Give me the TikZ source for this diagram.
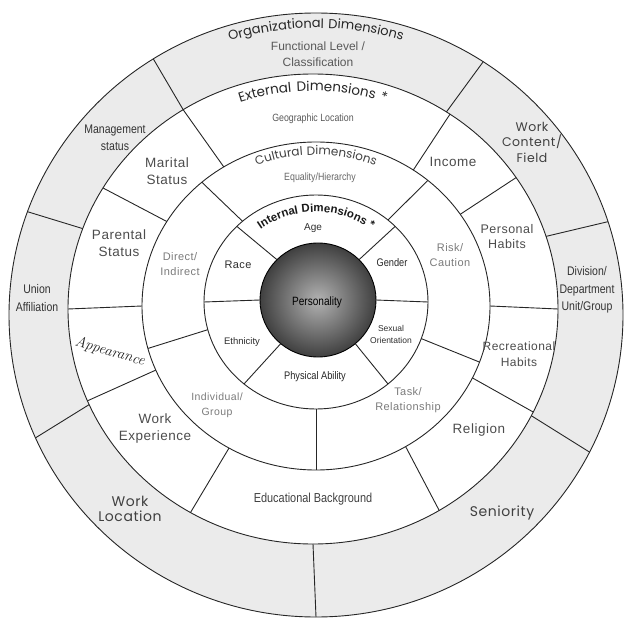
\documentclass[tikz,border=0pt]{standalone}
\usepackage{fontspec}
\setsansfont{Liberation Sans}
\newfontfamily\widesans[LetterSpace=4]{Liberation Sans}
\newfontfamily\narrowsans[FakeStretch=0.84]{Liberation Sans}
\newfontfamily\roundsans[LetterSpace=4]{Poppins}
\newfontfamily\titlesans[LetterSpace=6]{Poppins}
\newfontfamily\widetitlesans[LetterSpace=12]{Poppins}
\newfontfamily\innersans[LetterSpace=2]{Liberation Sans}
\newcommand\orgtitlefont{\titlesans\fontsize{13}{13}\selectfont}
\newcommand\exttitlefont{\widetitlesans\fontsize{13.5}{14}\selectfont}
\newcommand\culttitlefont{\titlesans\fontsize{12}{12}\selectfont}
\newcommand\inttitlefont{\innersans\bfseries\fontsize{11.5}{12}\selectfont}
\usepackage{tikz}
\usetikzlibrary{decorations.text}

\begin{document}
\begin{tikzpicture}[
  x=1pt,
  y=1pt,
  font=\sffamily,
  ring/.style={line width=0.9pt, draw=black!85},
  divider/.style={line width=0.9pt, draw=black!85},
  orgband/.style={fill=black!8},
  label/.style={align=center, inner sep=0pt},
  orgnarrow/.style={label, text=black!80, font=\narrowsans\fontsize{12.5}{17.5}\selectfont},
  orground/.style={label, text=black!75, font=\roundsans\fontsize{12.5}{15.5}\selectfont},
  orgplain/.style={label, text=black!65, font=\sffamily\fontsize{12}{16}\selectfont},
  extlabel/.style={label, text=black!70, font=\widesans\fontsize{13.5}{17}\selectfont},
  extnarrow/.style={label, text=black!75, font=\narrowsans\fontsize{13}{15}\selectfont},
  cultlabel/.style={label, text=black!52, font=\widesans\fontsize{11}{15}\selectfont},
  intlabel/.style={label, text=black!82, font=\sffamily\fontsize{10}{12}\selectfont},
  intnarrow/.style={label, text=black!85, font=\narrowsans\fontsize{11}{12}\selectfont}
]
\useasboundingbox (0,0) rectangle (640,633);

% Ring centres (the scan is slightly out of round).
\coordinate (cP) at (318,333);
\coordinate (cI) at (316,331);
\coordinate (cC) at (316,327);
\coordinate (cE) at (313,324);
\coordinate (cO) at (316,318);

% Shaded organizational band and the personality core.
\fill[orgband, even odd rule] (cO) ellipse [x radius=307, y radius=302]
  (cE) ellipse [x radius=245, y radius=235];
\shade[inner color=black!30, outer color=black!75] (cP) ellipse [x radius=58, y radius=57];

% Ring outlines.
\draw[ring] (cO) ellipse [x radius=307, y radius=302];
\draw[ring] (cE) ellipse [x radius=245, y radius=235];
\draw[ring] (cC) ellipse [x radius=174, y radius=164];
\draw[ring] (cI) ellipse [x radius=112, y radius=107];
\draw[ring, draw=black] (cP) ellipse [x radius=58, y radius=57];

% Internal ring dividers.
\draw[divider] ([shift={(0:58 and 57)}]cP) -- ([shift={(0:112 and 107)}]cI);
\draw[divider] ([shift={(45:58 and 57)}]cP) -- ([shift={(45:112 and 107)}]cI);
\draw[divider] ([shift={(135:58 and 57)}]cP) -- ([shift={(135:112 and 107)}]cI);
\draw[divider] ([shift={(180:58 and 57)}]cP) -- ([shift={(180:112 and 107)}]cI);
\draw[divider] ([shift={(230:58 and 57)}]cP) -- ([shift={(230:112 and 107)}]cI);
\draw[divider] ([shift={(310:58 and 57)}]cP) -- ([shift={(310:112 and 107)}]cI);

% Cultural ring dividers.
\draw[divider] ([shift={(50:112 and 107)}]cI) -- ([shift={(50:174 and 164)}]cC);
\draw[divider] ([shift={(131:112 and 107)}]cI) -- ([shift={(131:174 and 164)}]cC);
\draw[divider] ([shift={(195:112 and 107)}]cI) -- ([shift={(195:174 and 164)}]cC);
\draw[divider] ([shift={(270:112 and 107)}]cI) -- ([shift={(270:174 and 164)}]cC);
\draw[divider] ([shift={(340:112 and 107)}]cI) -- ([shift={(340:174 and 164)}]cC);

% External ring dividers.
\draw[divider] ([shift={(0:174 and 164)}]cC) -- ([shift={(0:245 and 235)}]cE);
\draw[divider] ([shift={(34:174 and 164)}]cC) -- ([shift={(34:245 and 235)}]cE);
\draw[divider] ([shift={(56:174 and 164)}]cC) -- ([shift={(56:245 and 235)}]cE);
\draw[divider] ([shift={(122:174 and 164)}]cC) -- ([shift={(122:245 and 235)}]cE);
\draw[divider] ([shift={(149:174 and 164)}]cC) -- ([shift={(149:245 and 235)}]cE);
\draw[divider] ([shift={(180:174 and 164)}]cC) -- ([shift={(180:245 and 235)}]cE);
\draw[divider] ([shift={(203:174 and 164)}]cC) -- ([shift={(203:245 and 235)}]cE);
\draw[divider] ([shift={(240:174 and 164)}]cC) -- ([shift={(240:245 and 235)}]cE);
\draw[divider] ([shift={(301:174 and 164)}]cC) -- ([shift={(301:245 and 235)}]cE);
\draw[divider] ([shift={(334:174 and 164)}]cC) -- ([shift={(334:245 and 235)}]cE);

% Organizational ring dividers.
\draw[divider] ([shift={(18:245 and 235)}]cE) -- ([shift={(18:307 and 302)}]cO);
\draw[divider] ([shift={(57:245 and 235)}]cE) -- ([shift={(57:307 and 302)}]cO);
\draw[divider] ([shift={(122:245 and 235)}]cE) -- ([shift={(122:307 and 302)}]cO);
\draw[divider] ([shift={(160:245 and 235)}]cE) -- ([shift={(160:307 and 302)}]cO);
\draw[divider] ([shift={(204:245 and 235)}]cE) -- ([shift={(204:307 and 302)}]cO);
\draw[divider] ([shift={(270:245 and 235)}]cE) -- ([shift={(270:307 and 302)}]cO);
\draw[divider] ([shift={(333:245 and 235)}]cE) -- ([shift={(333:307 and 302)}]cO);

% Curved ring titles.
\path[decorate, decoration={text along path, text align=center, text color=black!85,
  text={|\orgtitlefont|Organizational Dimensions}}]
  ([shift={(140:292 and 287)}]cO) arc [start angle=140, end angle=40, x radius=292, y radius=287];
\path[decorate, decoration={text along path, text align=center, text color=black!85,
  text={|\exttitlefont|External Dimensions *}}]
  ([shift={(140:227 and 218)}]cE) arc [start angle=140, end angle=40, x radius=227, y radius=218];
\path[decorate, decoration={text along path, text align=center, text color=black!75,
  text={|\culttitlefont|Cultural Dimensions}}]
  ([shift={(150:160 and 151)}]cC) arc [start angle=150, end angle=30, x radius=160, y radius=151];
\path[decorate, decoration={text along path, text align=center, text color=black!90,
  text={|\inttitlefont|Internal Dimensions *}}]
  ([shift={(165:94 and 90)}]cI) arc [start angle=165, end angle=15, x radius=94, y radius=90];

% Organizational labels.
\node[orgplain] (functional) at (318,579) {Functional Level /\\Classification};
\node[orgnarrow] (management) at (115,495) {Management\\status};
\node[orground] (workcontent) at (532,491) {Work\\Content/\\Field};
\node[orgnarrow] (division) at (587,343) {Division/\\Department\\Unit/Group};
\node[orgnarrow] (union) at (37,335) {Union\\Affiliation};
\node[orground, font=\roundsans\fontsize{14}{14.5}\selectfont] (worklocation) at (130,124) {Work\\Location};
\node[orground, font=\roundsans\fontsize{14}{15}\selectfont] (seniority) at (502,120) {Seniority};

% External labels.
\node[extnarrow, text=black!65, font=\narrowsans\fontsize{10.5}{12}\selectfont] (geographic) at (313,514) {Geographic Location};
\node[extlabel] (marital) at (167,461.5) {Marital\\Status};
\node[extlabel] (income) at (453,471) {Income};
\node[extlabel] (parental) at (119,389.5) {Parental\\Status};
\node[extlabel, font=\widesans\fontsize{12.5}{15}\selectfont] (personal) at (507,396.5) {Personal\\Habits};
\node[extlabel, font=\widesans\fontsize{12}{16}\selectfont] (recreational) at (519,279) {Recreational\\Habits};
\node[extlabel] (religion) at (479,203) {Religion};
\node[extnarrow] (educational) at (313,134) {Educational Background};
\node[extlabel] (workexp) at (155,204) {Work\\Experience};
\node[label, rotate=-16, text=black!88, font=\rmfamily\itshape\fontsize{15}{15}\selectfont]
  (appearance) at (110,281) {Appearance};

% Cultural labels.
\node[cultlabel, font=\narrowsans\fontsize{10.5}{12}\selectfont, text=black!60] (equality) at (320,455) {Equality/Hierarchy};
\node[cultlabel] (direct) at (180,369) {Direct/\\Indirect};
\node[cultlabel, font=\widesans\fontsize{10.5}{15}\selectfont] (individual) at (217,227.5) {Individual/\\Group};
\node[cultlabel] (task) at (408,232.5) {Task/\\Relationship};
\node[cultlabel] (risk) at (450,377.5) {Risk/\\Caution};

% Internal labels.
\node[intlabel] (age) at (313,405) {Age};
\node[intlabel, font=\widesans\fontsize{11}{12}\selectfont] (race) at (238,368) {Race};
\node[intnarrow] (gender) at (392,370) {Gender};
\node[intlabel, font=\sffamily\fontsize{9.5}{12}\selectfont] (ethnicity) at (242,291) {Ethnicity};
\node[intnarrow] (physical) at (315,256) {Physical Ability};
\node[intlabel, font=\sffamily\fontsize{8.5}{12}\selectfont] (sexual) at (391,299) {Sexual\\Orientation};
\node[intnarrow, text=black, font=\narrowsans\fontsize{12}{12}\selectfont] (personality) at (317,331) {Personality};

\end{tikzpicture}
\end{document}
